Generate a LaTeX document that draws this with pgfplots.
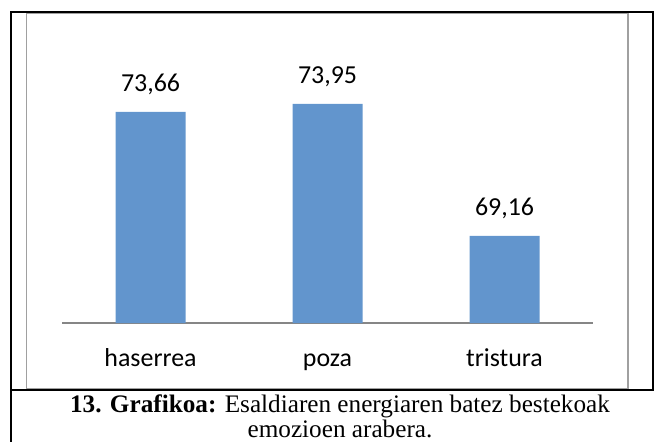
\documentclass[border=0pt]{standalone}
\usepackage{pgfplots}
\pgfplotsset{compat=1.18}
\usepackage{fontspec}
\setmainfont{Carlito}
\newfontfamily\capfont{Liberation Serif}
\definecolor{barblue}{RGB}{98,149,205}
\definecolor{axisgray}{RGB}{134,134,134}
\definecolor{framegray}{RGB}{160,160,160}
\begin{document}
\begin{tikzpicture}
\begin{scope}[x=1bp,y=-1bp]
\path[use as bounding box] (0,0) rectangle (654,442);
% table frame
\draw[black, line width=2bp] (11,442) -- (11,12) -- (654,12);
\draw[black, line width=2bp] (652.5,12) -- (652.5,390);
% chart frame
\draw[framegray, line width=1.6bp] (26.5,13.5) rectangle (628,389);
\draw[black, line width=2bp] (11,390) -- (654,390);
% caption
\node[anchor=base, inner sep=0pt, font=\capfont\fontsize{25.3}{27}\selectfont] at (340,412) {\textbf{13. Grafikoa:} Esaldiaren energiaren batez bestekoak};
\node[anchor=base, inner sep=0pt, font=\capfont\fontsize{25.3}{27}\selectfont] at (340,437) {emozioen arabera.};
\end{scope}
\begin{axis}[
  at={(62bp,-323bp)}, anchor=south west,
  scale only axis, width=531bp, height=275.6bp,
  xmin=-0.5, xmax=2.5, ymin=66, ymax=76,
  axis x line*=bottom, axis y line=none,
  x axis line style={draw=axisgray, line width=1.8bp, -},
  xtick=data, xticklabels={haserrea,poza,tristura},
  major tick length=0pt,
  xticklabel style={anchor=base, yshift=-43bp, inner sep=0pt, font=\fontsize{26}{30}\selectfont, text=black},
  ytick=\empty,
  ybar, bar width=70bp,
  /pgf/number format/assume math mode=true,
  nodes near coords={\pgfmathprintnumber[use comma,fixed,fixed zerofill,precision=2,assume math mode=true]{\pgfplotspointmeta}},
  every node near coord/.append style={anchor=base, yshift=20bp, inner sep=0pt, font=\fontsize{26}{30}\selectfont, text=black},
]
\addplot[fill=barblue, draw=none] coordinates {(0,73.66) (1,73.95) (2,69.16)};
\end{axis}
\end{tikzpicture}
\end{document}
